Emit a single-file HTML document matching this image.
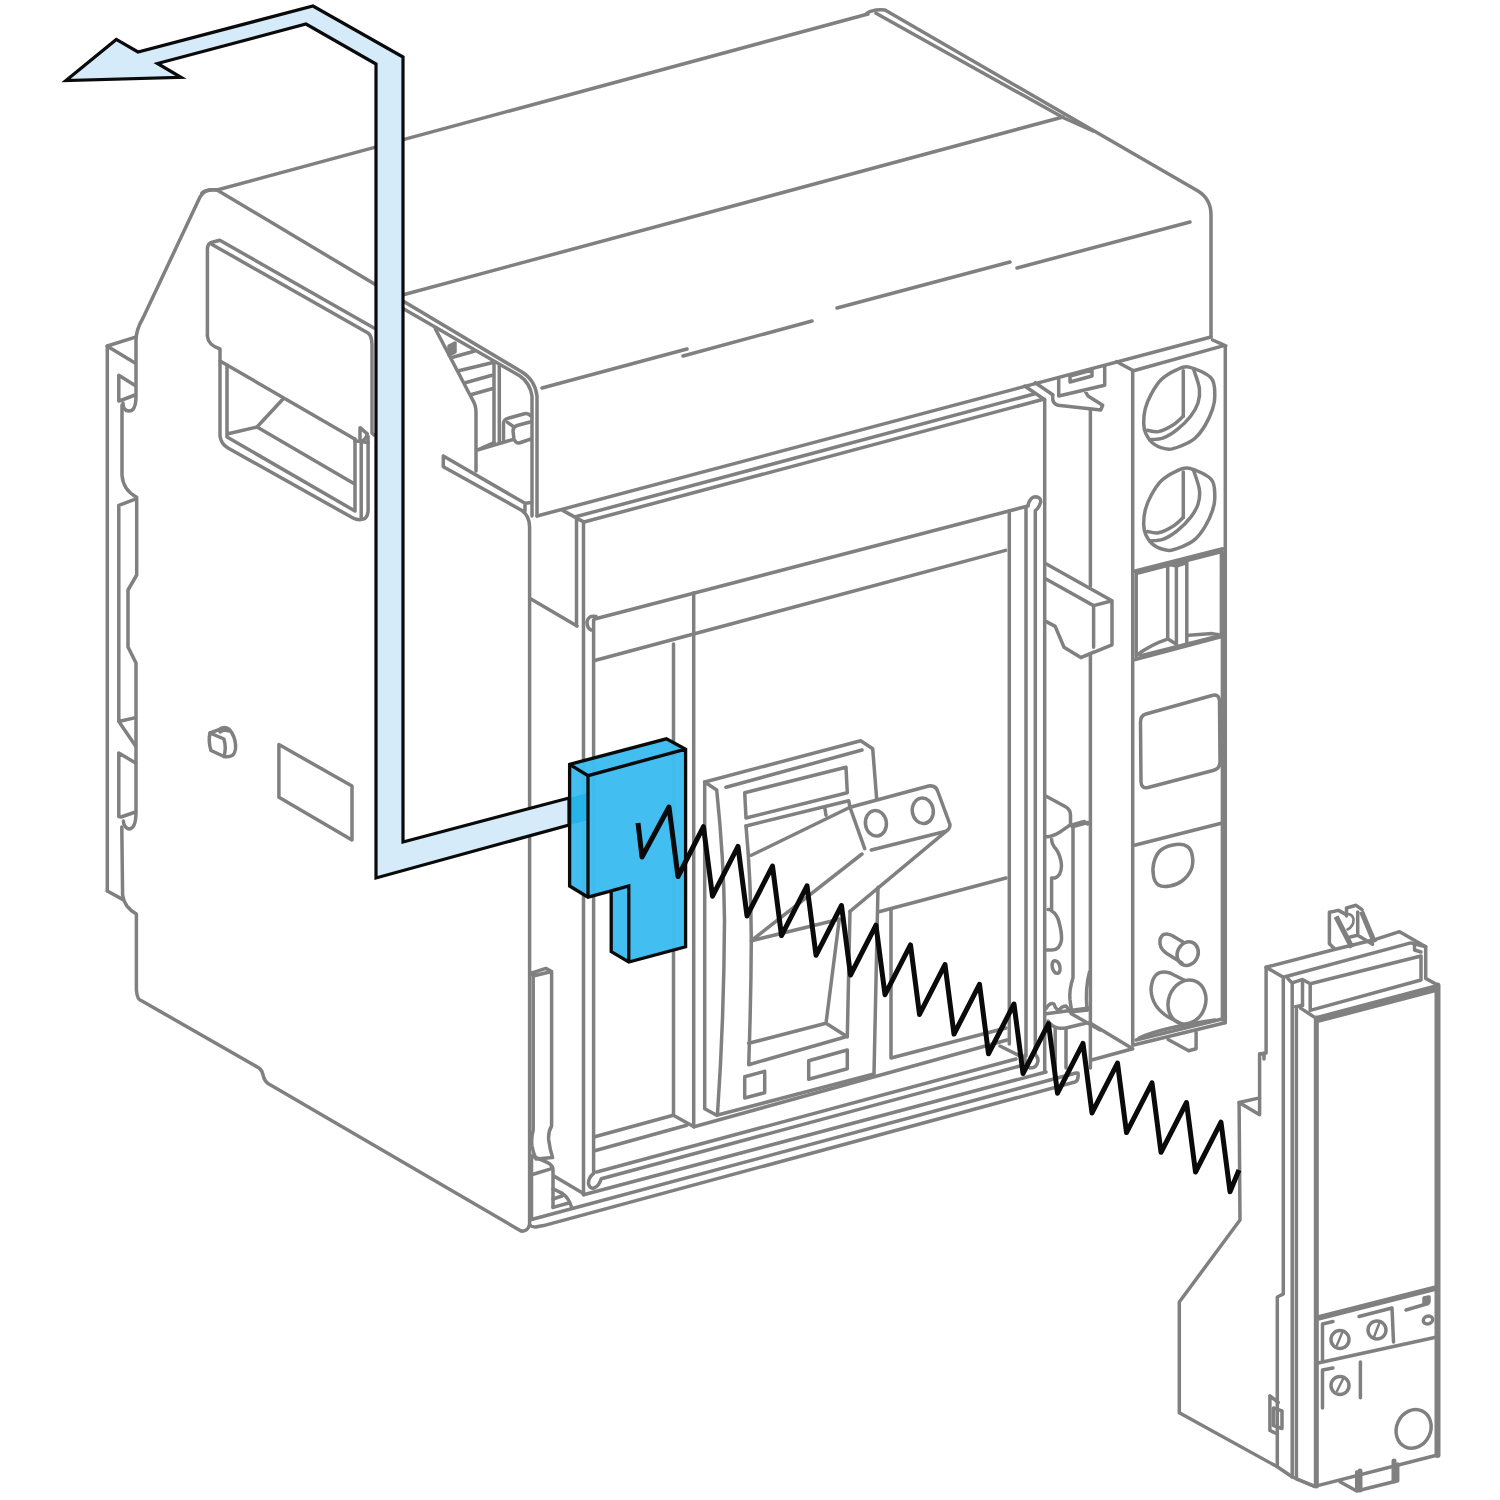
<!DOCTYPE html>
<html><head><meta charset="utf-8"><style>
html,body{margin:0;padding:0;background:#fff;width:1500px;height:1500px;overflow:hidden}
svg{display:block}
.g{fill:none;stroke:#808080;stroke-width:3.5;stroke-linejoin:round;stroke-linecap:round}
.w{fill:#fff;stroke:#808080;stroke-width:3.5;stroke-linejoin:round;stroke-linecap:round}
.k{fill:none;stroke:#0a0a0a;stroke-width:4.2;stroke-linejoin:miter;stroke-linecap:butt}
</style></head><body>
<svg width="1500" height="1500" viewBox="0 0 1500 1500">
<!-- TOPBOX -->
<g class="g" id="topbox">
<path d="M202,193 Q206,189 217,190 L868,14"/>
<path d="M866,14 Q872,9 885,10 L1198,191 Q1211,199 1211,215 L1211,337"/>
<path d="M876,13.3 L1064,118 L1093,131"/>
<path d="M395,297 L1063,117"/>
<path d="M542,388 L687,349 M683,356 L812,321 M837,308 L1010,262 M1017,268 L1190,222"/>
<path d="M537,516 L1211,337"/>
<path d="M217,190 L522,372 Q535,380 537,396 L537,516"/>
<path d="M390,301 L520,376 Q530,383 532,396 L532,516"/>
</g>
<!-- SIDE PANEL -->
<g class="g" id="side">
<path d="M217,190 Q205,188 200,197 L143,318 Q136,330 136,340 L136,396 Q136,411 129,411 Q123,411 123,403"/>
<path d="M107.3,891 L107.3,346 L134.7,337.3 M107,346 L135,363"/>
<path d="M118.8,401 L118.8,375.3 L134.7,385.3 M118.8,401 L122,400 L135,395"/>
<path d="M122,405 L122,475 Q123,490 136.7,497.3 L136.7,575 L128,590 L128,647 L136,663 L136,812 Q136,829 128.7,829 Q123.5,827 123.4,821"/>
<path d="M121.8,827 L122.6,895 Q124,907 136.4,914 L136.4,990 Q137,1000 142,1001 L259,1068 Q262,1070 263,1075 Q264.5,1081 268,1083.5 L521,1231 Q527,1232 529.6,1225"/>
<path d="M118.8,721.5 L118.8,505.3 L134.7,499.3 M118.8,721.5 L135.6,717.6 M118.8,721.5 L135.6,746"/>
<path d="M135.6,762.9 L118.8,753 L118.8,816.6 L121,817 L135.6,812"/>
<path d="M107.3,891 L122.6,899.4"/>
<!-- handle -->
<path d="M207.4,336 L207.4,249 Q207.5,243 213,242 L219.8,240.2 L374,328"/>
<path d="M212,244.4 L368,333 Q372,336 372,345 L372,433 L374,435"/>
<path d="M207.4,336 Q208,345 220,349 L220,436 Q221,444 228,448 L353,518 Q358.6,521 364.7,518.7 Q368.1,516 368.1,510 L368.1,436.4"/>
<path d="M220,361 L354.7,439 M354.7,440.7 L368.1,442.5"/>
<path d="M227,365 L227,437 L355,511 L355,439 M227,434 L257,427 L283,399 M257,427 L353.4,483.2"/>
<path d="M361.2,440.7 L361.2,518.7 M360,441 L360,427.7 L367.3,433.8 Q366,440 361,441"/>
<!-- knob & label -->
<path d="M278.9,744.5 L352,786.1 L352,840 L278.9,797.3 Z"/>
<path d="M210,733 L224,739 Q226.5,748 224,756.5 L211,750.5 Q208,741 210,733 Z"/>
<path d="M210,733 L219,729.6 Q223,726 228,728.5 Q233,732 235,741 Q237,750 233,755 Q229,757.5 224,756.5 M220,732 Q224,729 229,731"/>
</g>
<g class="g" id="front">
<!-- bracket between handle and top box -->
<path d="M435.3,328.7 L472,398.7 Q476,405 476,412 L476,471"/>
<path d="M452.7,357.3 L474,351.3 M458.7,370.7 L492,362.7 M465.3,382.7 L492,375.3 M470.7,394.7 L492,388.7"/>
<path d="M494,362.7 L494,442.7 M499.3,365.3 L499.3,442"/>
<path d="M449,346 L449,355 L455,352 L455,343 Z" fill="#808080"/>
<path d="M503.5,441 L503.5,423 Q504,419 509,418 L524.5,413.7 Q528,413 531,416"/>
<path d="M531,421.7 L517,425.5 Q513,427 513,431 L513.9,438.3 Q515,443 519.2,443 L531,439 M507.5,422.3 L513.3,426.5"/>
<path d="M477.3,450 L513,439.5 M477.3,450 L494,442.7"/>
<path d="M443.3,456 L443.3,466.7 L522,510.5 Q529.6,516 529.6,527 L529.6,1225 M443.3,456 L525,503.3 L531.7,502.4 M525,503.3 L525,511"/>
<!-- front frame -->
<path d="M530.1,598.4 L577,626.1 M576.5,516.8 L576.5,626.1 M583.5,522 L583.5,1194.8 M562.7,510.4 L584,522.1"/>
<path d="M575.5,516.8 L1034,394 M584,522 L1043.3,399.3 M1024.7,386 L1043.3,398.7 M1035.3,382.7 L1052.7,394.7"/>
<path d="M1044.7,399.3 L1044.7,1071"/>
<!-- inner frame -->
<path d="M596,616.5 Q588,615 587,622 Q587,628 591,630 M593.6,620 L593.6,1173.3"/>
<path d="M594.7,619 L1028,506"/>
<path d="M594.7,660.5 L1005.6,550.4"/>
<path d="M693.7,592.7 L693.7,1126.7 M673.5,644 L673.5,1115.3"/>
<path d="M1028,505.3 Q1030,497 1035.3,496.7 Q1041,497 1040.7,502 Q1039,508 1035.3,510.7 L1035.3,1054 M1009.3,510.7 L1009.3,1044 M1026,507 L1026,1056"/>
<!-- bottom rails -->
<path d="M594.7,1136.7 L673.3,1115.3 L694,1126.7 M594.7,1150.7 L686.7,1125.3"/>
<path d="M694,1126.7 L1007,1040"/>
<path d="M596.7,1172 L1016,1059 M593.6,1173.3 Q588,1178 588.5,1184 Q590,1189 594,1188 Q599,1186 601.3,1178.7 L1020,1066"/>
<path d="M583.5,1194.8 L1046,1072 M531.5,1219.5 L1076,1073 M531.5,1156 L531.5,1219.5 M529.6,1225 Q533,1228 538,1226.5 Q541,1226 543.6,1225.6 L1075,1082 Q1079,1080 1078,1073"/>
<path d="M1000,1046 L1024,1058 M1025,1055 Q1024,1066 1030,1068 Q1037,1068 1038,1061 Q1038,1055 1033,1054"/>
<!-- tab bottom-left -->
<path d="M531.3,973.2 L545.8,968.4 L551.6,971.5 L551.6,1126 Q548,1132 548.7,1140 Q550,1150 552.6,1157.5 L536,1159 Q533,1152 532,1146 Q531,1138 533.2,1130 L533.2,976 L531.3,973.2 M533.2,976 L551.6,971.5"/>
<path d="M531.5,1156 Q545,1161 549.2,1163.5 Q553,1166 553,1170 L553,1207.4 M531.5,1174.7 L550.1,1169.1 M553,1175.6 L584.7,1194.3"/>
<path d="M553,1188.7 L562.3,1193.4 Q569,1198 571.6,1207.4 M553,1199 L562,1196 M553,1207.4 L569.8,1202.7"/>
<!-- right lever box -->
<path d="M1046.4,564 L1112,600.8 L1112,644.8 L1080.8,657.6 L1064,647.2 L1055.2,626.4 L1046.4,621.6 M1046.4,579.2 L1093.6,605.6 L1112,600.8 M1093.6,605.6 L1093.6,647.2 M1080.8,657.6 L1093.6,652"/>
<path d="M1090.4,409.3 L1090.4,586 M1090.4,655 L1090.4,1068"/>
<!-- bracket on top -->
<path d="M1052.7,394.7 L1052.7,398.7 Q1053,404 1058,405.3 L1100.7,410 L1102.7,405.3 L1088,396 L1085.3,391.3 M1058.7,378.7 L1058.7,396 L1104.7,385.3 L1104.7,366 M1070,376 L1092,370 L1092,376 L1070,382 Z"/>
</g>
<g class="g" id="terminal">
<path d="M1116.7,361.7 L1133.5,370.8 L1222.9,345.9 M1212.6,340 L1225.8,345.9 M1225.3,345.9 L1225.3,1022.7 M1132.7,370.8 L1132.7,1045 M1222.4,552 L1222.4,1020"/>
<path d="M1134.3,571.2 L1222.7,548.7 M1136.9,573.4 L1221,551.7 M1136.2,573.4 L1136.2,657 M1221.4,551.7 L1221.4,636"/>
<path d="M1135.2,659.6 L1222.7,636.2 M1140,656 L1221.9,635.3"/>
<path d="M1167.7,563.4 L1167.7,638.8 L1175.9,644 M1176.4,566 L1176.4,644 M1186.8,562.5 L1186.8,642.7 M1169.4,564.3 L1176.4,566 L1186.8,562.5 M1176,564.5 L1182,563"/>
<path d="M1137.8,654.4 Q1150,645 1168,638.8 M1188.9,635.3 L1212.3,633.6 L1221.9,635.3"/>
<path d="M1146,714 Q1140.5,715.5 1140.5,722 L1141,782 Q1141.5,789 1148,787.5 L1213,770.5 Q1220,768.8 1220,762 L1219.5,701 Q1219,693.5 1212,695.5 Z"/>
<path d="M1134.5,845.3 L1222.3,823"/>
<path d="M1168.1,944.3"/>
<path d="M1133.6,1045 L1225.1,1022.7 M1136,1040 L1222,1019"/>
<path d="M1139,1038 Q1160,1028 1215,1020"/>
<path d="M1168.1,1039.5 L1188.7,1050.7 L1196.1,1048.8 L1196.1,1032"/>
<path d="M1189.2,367.1 C1195.1,368.4 1206.9,373.3 1211.2,378.1 C1215.5,382.9 1214.6,390.6 1214.8,395.7 C1215.0,400.8 1214.2,404.0 1212.6,408.9 C1211.0,413.8 1208.2,420.1 1205.3,425.0 C1202.4,429.9 1198.9,434.8 1195.0,438.2 C1191.1,441.6 1186.2,443.8 1181.8,445.6 C1177.4,447.4 1173.3,449.4 1168.7,449.2 C1164.1,448.9 1157.8,446.7 1154.0,444.1 C1150.2,441.5 1147.6,437.2 1145.9,433.8 C1144.2,430.4 1143.8,427.8 1143.7,423.6 C1143.6,419.5 1144.0,413.8 1145.2,408.9 C1146.4,404.0 1148.4,399.2 1151.1,394.3 C1153.8,389.4 1157.1,383.6 1161.3,379.6 C1165.5,375.6 1171.3,372.2 1176.0,370.1 C1180.7,368.0 1183.3,365.8 1189.2,367.1 Z"/>
<path d="M1183.3,370.8 L1183.3,416.2 "/>
<path d="M1183.3,416.2 C1181.6,417.7 1177.2,422.4 1173.0,425.0 C1168.8,427.6 1162.7,430.7 1158.4,431.6 C1154.1,432.5 1149.2,430.4 1147.4,430.2 "/>
<path d="M1193.6,369.3 C1194.6,372.5 1198.7,382.8 1199.4,388.4 C1200.1,394.0 1199.5,398.4 1198.0,403.0 C1196.5,407.6 1194.0,411.8 1190.6,416.2 C1187.2,420.6 1182.0,425.7 1177.4,429.4 C1172.8,433.1 1167.4,436.5 1162.8,438.2 C1158.2,439.9 1151.8,439.4 1149.6,439.7 "/>
<path d="M1189.2,468.3 C1195.1,469.6 1206.9,474.5 1211.2,479.3 C1215.5,484.1 1214.6,491.8 1214.8,496.9 C1215.0,502.0 1214.2,505.2 1212.6,510.1 C1211.0,515.0 1208.2,521.3 1205.3,526.2 C1202.4,531.1 1198.9,536.0 1195.0,539.4 C1191.1,542.8 1186.2,545.0 1181.8,546.8 C1177.4,548.6 1173.3,550.6 1168.7,550.4 C1164.1,550.1 1157.8,547.9 1154.0,545.3 C1150.2,542.7 1147.6,538.4 1145.9,535.0 C1144.2,531.6 1143.8,529.0 1143.7,524.8 C1143.6,520.7 1144.0,515.0 1145.2,510.1 C1146.4,505.2 1148.4,500.4 1151.1,495.5 C1153.8,490.6 1157.1,484.8 1161.3,480.8 C1165.5,476.8 1171.3,473.4 1176.0,471.3 C1180.7,469.2 1183.3,467.0 1189.2,468.3 Z"/>
<path d="M1183.3,472.0 L1183.3,517.4 "/>
<path d="M1183.3,517.4 C1181.6,518.9 1177.2,523.6 1173.0,526.2 C1168.8,528.8 1162.7,531.9 1158.4,532.8 C1154.1,533.7 1149.2,531.6 1147.4,531.4 "/>
<path d="M1193.6,470.5 C1194.6,473.7 1198.7,484.0 1199.4,489.6 C1200.1,495.2 1199.5,499.6 1198.0,504.2 C1196.5,508.8 1194.0,513.0 1190.6,517.4 C1187.2,521.8 1182.0,526.9 1177.4,530.6 C1172.8,534.3 1167.4,537.7 1162.8,539.4 C1158.2,541.1 1151.8,540.6 1149.6,540.9 "/>
<path d="M1176.0,844.5 C1180.5,844.0 1185.2,844.9 1188.0,847.0 C1190.8,849.1 1192.0,853.2 1192.5,857.0 C1193.0,860.8 1192.8,866.0 1191.0,870.0 C1189.2,874.0 1185.5,878.3 1182.0,881.0 C1178.5,883.7 1173.9,885.3 1170.0,886.0 C1166.1,886.7 1161.2,886.7 1158.5,885.0 C1155.8,883.3 1154.2,879.8 1153.5,876.0 C1152.8,872.2 1152.8,866.3 1154.0,862.0 C1155.2,857.7 1157.3,852.9 1161.0,850.0 C1164.7,847.1 1171.5,845.0 1176.0,844.5 Z"/>
<ellipse cx="1187.7" cy="953.6" rx="10.3" ry="12.1" transform="rotate(25 1187.7 953.6)"/>
<path d="M1183,942 L1172,935.5 Q1162,931 1160,940 Q1159,948 1166,953 L1182,963"/>
<ellipse cx="1187" cy="1002" rx="18.5" ry="22.4" transform="rotate(20 1187 1002)"/>
<path d="M1184,980 L1170,973 Q1152,968 1151,990 Q1152,1008 1170,1018 L1182,1024"/>
<path d="M1089.7,1022.7 L1132.7,1048.8 M1091.6,1060 L1132.7,1048.8"/>
</g>
<g class="g" id="mech">
<path d="M1046.2,796.2 L1066,807 Q1070.5,810 1070.5,815 L1070.5,825"/>
<path d="M1046.2,836.7 Q1052,837 1060,832 Q1066,828 1068.7,825.9 L1084,821.4 L1087.6,824 M1072.3,826.8 L1087.6,822.5"/>
<path d="M1051.6,839.4 Q1052,845 1056,849 Q1061,856 1061.5,866 Q1061,876 1055,878 L1051.6,878 L1051.6,909.5 L1048,909.5"/>
<path d="M1051.6,911 Q1057,914 1059,922 Q1062,933 1061.5,940 Q1060,950 1052,950 L1046.2,950"/>
<ellipse cx="1056.1" cy="967" rx="3.8" ry="6.5" transform="rotate(-15 1056.1 967)"/>
<path d="M1073,826.8 L1073,977.8 Q1069,990 1070,1000 Q1071,1008 1072,1012 M1089.5,972 Q1085,988 1087,1010"/>
<path d="M1046.2,1008.4 Q1050,1002 1054,1004 Q1056,1010 1059,1010 Q1062,1006 1066,1006 Q1068,1008 1070,1012 L1087.6,1010"/>
<path d="M1046.2,1013.8 L1089,1008 M1048,1021 Q1052,1027 1058,1028 Q1064,1029 1070,1027 L1087.6,1022.8 M1071.4,1013.8 L1100,1030"/>
<path d="M1055.2,1028 L1055.2,1068 M1066,1029 L1066,1068"/>
</g>
<g class="g" id="lever">
<path d="M704.7,782 L704.7,1108.7 L716.7,1115.3 L874,1074 L878,887.3"/>
<path d="M704.7,782 L716.7,790 Q724,860 724.5,920 Q724,1020 717.5,1114"/>
<path d="M704.7,782 L860.7,740.7 L872.7,748.7 L876.7,799.3 M726,787.3 L862,750"/>
<path d="M744.7,792.7 L846,767.3 L847.3,792.7 L746,818 Z"/>
<path d="M746,826 L848.7,800.7 L850,807.3 M824.7,807.3 L826,815.3"/>
<path d="M746,826 Q751,880 751.3,940.7 Q751,1000 748.7,1064.7 L846,1036.7 M751.3,855.3 L850,807.3"/>
<path d="M850,807.3 L928.7,786 Q936,785 938,792 L950,824.7 Q950,829 946,831.3 L871.3,850 M850,807.3 L864.7,848.7"/>
<ellipse cx="875.9" cy="823.3" rx="10.5" ry="12.8" transform="rotate(-8 875.9 823.3)"/>
<ellipse cx="922.8" cy="810.8" rx="10.5" ry="12.8" transform="rotate(-8 922.8 810.8)"/>
<path d="M862,854 L751.3,940.7 L839.3,919.3 M946,831.3 L850,911.3"/>
<path d="M839.3,919.3 L826,1023.3 L847.3,1036.7 L850,911.3 M826,1023.3 L748.7,1043.3"/>
<path d="M744.7,1076.7 L764.7,1071.3 L764.7,1092.7 L744.7,1098 Z M808.7,1060.7 L847.3,1050 L847.3,1068.7 L808.7,1079.3 Z"/>
<path d="M891,909.5 L891,1058 L1006,1028 M878,912 L1006,878"/>
</g>
<g class="g" id="trip">
<path class="w" d="M1266.1,967.2 L1334.3,949.5 L1376.3,939.2 L1399.6,931.7 L1425.7,946.7 L1425.7,978.4 L1437.5,985 L1437.5,1455 L1314.7,1486.4 L1292.3,1477 L1277.3,1466.8 L1179.3,1412.7 L1179.3,1302 L1240,1220 L1239.1,1102.5 L1259.6,1097.9 L1259.6,1054 L1266.1,1053 Z"/>
<path d="M1239.1,1102.5 L1259.6,1114.7 L1259.6,1097.9 M1259.6,1054 L1264,1053.5 L1264,1059"/>
<path d="M1266.1,967.2 L1283.3,977.3 L1410.8,942.9 L1425.7,946.7 M1283.3,977.3 L1283.3,1294 L1277.3,1297 L1277.3,1466.8"/>
<path d="M1414.5,943 L1414.5,950 L1421,952"/>
<path d="M1288,978.7 L1292.2,982.9 L1292.2,1477 M1292.2,982.9 L1302,979.6 M1302.5,980 L1302.5,1005.7"/>
<path d="M1303.4,980 L1310.2,983.8 L1310.2,1010.4 M1310.2,983.8 L1421,956 L1421,980 M1310.2,1010.4 L1421,980"/>
<path d="M1295.5,1006.7 L1302.5,1005.3 M1296.4,1006.7 L1296.4,1479 L1314.7,1486.4 M1300.6,1008.1 L1315.5,1017.9 L1436,986"/>
<path d="M1318.4,1020.4 L1436,989.6 M1316.3,1018 L1316.3,1486" style="stroke-width:5"/>
<path d="M1437.5,985.5 L1437.5,1455" style="stroke-width:6"/>
<path d="M1318,1318 L1436,1288" style="stroke-width:5.5"/>
<path d="M1318,1363 L1437,1337"/>
<path d="M1322.5,1360 L1322.5,1324 L1333,1321.5 M1359,1316.5 L1392,1308 L1393.5,1342 M1406,1310 L1428,1303.5"/>
<path d="M1424,1298 L1429,1297 L1429,1302 L1424,1303 Z" fill="#808080"/>
<circle cx="1340" cy="1339.5" r="9"/><circle cx="1377" cy="1330" r="9"/>
<ellipse cx="1428" cy="1320" rx="4.8" ry="3.8" transform="rotate(-20 1428 1320)"/>
<path d="M1337,1345 L1342,1333 M1374,1337 L1379,1324 M1337,1391 L1343,1379" style="stroke-width:2.5"/>
<path d="M1322.5,1408 L1322.5,1370 L1333,1368 M1360.4,1362 L1360.4,1397.7"/>
<circle cx="1340" cy="1385.5" r="9"/>
<ellipse cx="1413.6" cy="1428.9" rx="17" ry="19.8" transform="rotate(25 1413.6 1428.9)"/>
<path d="M1269.9,1395.9 L1269.9,1430.4 L1277.3,1434 M1269.9,1395.9 L1278.3,1402.4 M1273.6,1408 L1282,1410.8 L1282,1428.5 L1273.6,1425.7 Z"/>
<path d="M1339.9,1481.7 L1356.7,1491 L1397.7,1480.8 L1397.7,1464 M1356.7,1491 L1356.7,1472"/>
<path d="M1360,1471 L1360,1490 M1394,1461 L1394,1481" style="stroke-width:5"/>
<!-- clip on top -->
<path d="M1334.7,949.1 L1329.4,943.7 L1329.4,912.3 L1338.5,910.4 L1344.9,913.9"/>
<path d="M1336,916.5 L1352,947.5 M1361.5,911.5 L1374.5,942.5" style="stroke-width:5.2;stroke-linecap:butt"/>
<path d="M1346.5,916 L1346.5,908 L1356.1,905.3 L1362,909.6 M1357.7,912 L1357.7,935.2 L1350.2,937 M1357.7,935.2 L1372.6,944.3"/>
<path d="M1345,914 Q1352,913 1353.5,919 Q1354,926 1347.5,929.5" style="stroke-width:2.6"/>
</g>
<!-- ARROW -->
<path d="M403,842 L569,798 L569,825 L376,878 L376,64 L306,24 L157.5,63.5 L181,77.3 L66,80.6 L116.3,39.4 L138,52 L313,6 L403,57 Z" fill="#d6ebf9" stroke="#0a0a0a" stroke-width="3.2" stroke-linejoin="miter"/>
<!-- BLOCK -->
<g id="block">
<path d="M569.6,764.4 L666.4,738.8 L685.6,749.2 L685.6,946.8 L628.8,962 L611.2,951.6 L611.2,890.8 L588,897.2 L569.6,886 Z" fill="#3dbcf1" fill-opacity="0.97" stroke="none"/>
<path d="M569.6,798 L588,793 L588,820 L569.6,825 Z" fill="#1eb0e8" opacity="0.8"/>
<path class="k" style="stroke-width:3.3" d="M569.6,764.4 L666.4,738.8 L685.6,749.2 L685.6,946.8 L628.8,962 L611.2,951.6 L611.2,890.8 L588,897.2 L569.6,886 Z M569.6,764.4 L588,775.6 L685.6,749.2 M588,775.6 L588,897.2 M611.2,890.8 L628.8,886 L628.8,962"/>
</g>
<!-- ZIGZAG -->
<polyline class="k" style="stroke-linejoin:round;stroke-width:5" points="638.0,823.0 642.0,857.0 669.0,807.0 678.0,876.5 703.5,826.7 712.5,896.2 738.0,846.4 747.0,915.9 772.5,866.1 781.5,935.6 807.0,885.8 816.0,955.3 841.5,905.5 850.5,975.0 876.0,925.2 885.0,994.7 910.5,944.9 919.5,1014.4 945.0,964.6 954.0,1034.1 979.5,984.3 988.5,1053.8 1014.0,1004.0 1023.0,1073.5 1048.5,1023.7 1057.5,1093.2 1083.0,1043.4 1092.0,1112.9 1117.5,1063.1 1126.5,1132.6 1152.0,1082.8 1161.0,1152.3 1186.5,1102.5 1195.5,1172.0 1221.0,1122.2 1230.0,1191.7 1239.0,1170.0"/>
</svg>
</body></html>
